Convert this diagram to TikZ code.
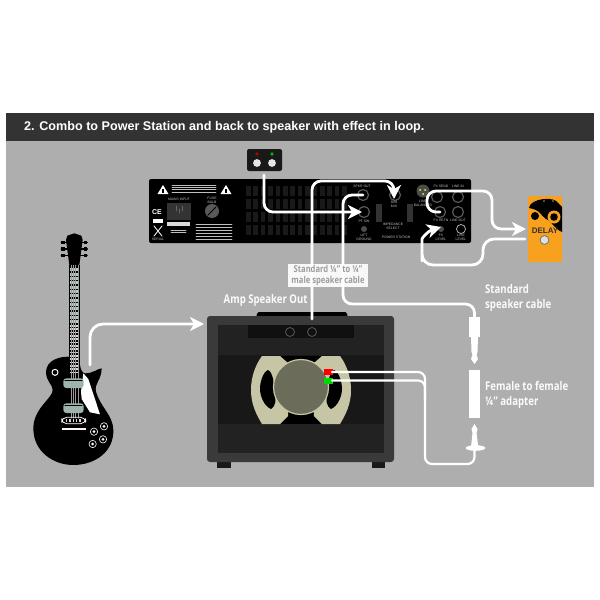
\documentclass[tikz,border=0pt]{standalone}
\usepackage{fontspec}
\setmainfont{Liberation Sans}
\newfontfamily\narrowfont[FakeStretch=0.8]{Open Sans}
\usetikzlibrary{arrows.meta,shapes.geometric}
\definecolor{backgr}{HTML}{AEAEAE}
\definecolor{titleband}{HTML}{333333}
\definecolor{ampshell}{HTML}{3A3A3A}
\definecolor{ampfront}{HTML}{222222}
\definecolor{ampband}{HTML}{181818}
\definecolor{amppanel}{HTML}{101010}
\definecolor{basket}{HTML}{C6C6A6}
\definecolor{cone}{HTML}{6C6C5A}
\definecolor{pedalorange}{HTML}{F8A11E}
\definecolor{pickup}{HTML}{9DB3AB}
\tikzset{
	cable/.style={draw=white,line width=2.8pt,line join=round,rounded corners=9pt},
	arrowcable/.style={cable,-{Stealth[length=14pt,width=14pt,inset=4pt]}},
	thinwire/.style={draw=white,line width=2.2pt,rounded corners=7pt},
	caption/.style={font=\narrowfont\bfseries\fontsize{12}{15.3}\selectfont,text=white!95!backgr,align=left,inner sep=0pt},
	paneltext/.style={font=\fontsize{3.4}{4}\selectfont,text=white!75!black,inner sep=0pt,align=center},
	jackring/.style={draw=black!65!white,line width=1.2pt,fill=black},
}
\begin{document}
\begin{tikzpicture}[x=1pt,y=-1pt,line join=round,line cap=round]
	\useasboundingbox (0,0) rectangle (600,600);
	\fill[white] (0,0) rectangle (600,600);
	%% background and title
	\fill[backgr] (6,141) rectangle (594,487);
	\fill[titleband] (6,113) rectangle (594,141);
	\node[anchor=west,inner sep=0pt,text=white,font=\bfseries\fontsize{12.6}{14}\selectfont] (title) at (24,127.5)
		{2. Combo to Power Station and back to speaker with effect in loop.};
	%% footswitch
	\fill[black!90!white,rounded corners=2pt] (247,149) rectangle (282,171);
	\coordinate (footout) at (264,175);
	\fill[red!70!black] (257,154) circle (1.8);
	\fill[green!70!black] (272,154) circle (1.8);
	\foreach \x in {257,272} \fill[white!90!black] (\x,163) circle (3.9);
	%% rear panel of the power station
	\fill[black,rounded corners=2pt] (149,179) rectangle (471,243);
	\foreach \i in {0,...,13} \foreach \j in {0,...,3}
		\fill[black!90!white] (246+7.4*\i,186+13*\j) rectangle +(4.6,10);
	\foreach \x in {163,226} \fill[white] (\x-5.5,194) -- (\x,185) -- (\x+5.5,194) -- cycle;
	\foreach \x in {163,226} \fill[black] (\x-.6,188.5) rectangle (\x+.6,192.5);
	\foreach \y in {185,187.3,189.6,192} \draw[white!75!black,line width=.8pt] (172,\y) -- (216,\y);
	\node[paneltext] (mains) at (179,199) {MAINS INPUT};
	\node[paneltext] (fuse) at (212,200.5) {FUSE\\BULB};
	\fill[black!80!white] (167,203) rectangle (191,220);
	\draw[black!60!white,line width=.6pt] (176,206) -- (176,211) (182,206) -- (182,211) (179,209) -- (179,213);
	\fill[black!65!white] (212,211) circle (7);
	\draw[black,line width=.8pt] (208,215) -- (216,207);
	\fill[white!85!black] (167,222) rectangle (190,226);
	\foreach \y in {230,232.5} \draw[white!75!black,line width=.7pt] (171,\y) -- (186,\y);
	\node[font=\bfseries\fontsize{7}{8}\selectfont,text=white,inner sep=0pt] (ce) at (157,212) {CE};
	\fill[white] (153,219) rectangle (163,223);
	\draw[white,line width=.8pt] (154,226) -- (162,236) (162,226) -- (154,236);
	\node[paneltext] (serial) at (158,239) {SERIAL};
	\foreach \y in {224,227,230,233,236,239} \draw[white!75!black,line width=.8pt] (196,\y) -- (232,\y);
	\foreach \x/\y/\nm in {363/195/spkrjack,364/212/ptjack,395/195/dimjack} \node[jackring,circle,minimum size=11pt,inner sep=0pt] (\nm) at (\x,\y) {};
	\foreach \x/\y/\nm in {437/197/fxsend,458/197/linein,440/212/fxret,458/212/lineout} \node[jackring,circle,minimum size=11pt,inner sep=0pt] (\nm) at (\x,\y) {};
	\node[paneltext] (spkrlab) at (362,186) {SPKR OUT};
	\node[paneltext] (ptlab) at (364,221) {PT SW};
	\node[paneltext] (dimlab) at (394,204) {DIM\\MIX};
	\node[paneltext] (sendlab) at (441,186) {FX SEND};
	\node[paneltext] (inlab) at (458,186) {LINE IN};
	\node[paneltext] (retlab) at (441,220) {FX RETN};
	\node[paneltext] (outlab) at (458,220) {LINE OUT};
	\node[paneltext] (fxlab) at (441,237) {FX\\LEVEL};
	\node[paneltext] (lineleveltx) at (461,237) {LINE\\LEVEL};
	\node[paneltext] (groundlab) at (364,237) {LIFT\\GROUND};
	\node[paneltext] (imped) at (393,226) {IMPEDANCE\\SELECT};
	\fill[black!80!white] (376,204) rectangle (382,222);
	\fill[black!80!white] (407,204) rectangle (413,222);
	\fill[black!70!white] (364,229) circle (3);
	\fill[black!70!white] (441,229) circle (3);
	\draw[white!75!black,fill=black,line width=.7pt] (461,229) circle (4.5);
	\fill[black!70!white] (423,191) circle (6.5);
	\foreach \x/\y in {420/190,425/190,423/194} \fill[yellow!80!white] (\x,\y) circle (1);
	\node[paneltext,anchor=west] (model) at (382,237) {POWER STATION};
	\node[paneltext] (xlrlab) at (423,203) {LINE\\BALANCED};
	%% pedal
	\fill[pedalorange,rounded corners=1pt] (528,196) rectangle (562,262);
	\fill[black] (529,208) .. controls (530,198) and (555,196) .. (558,203) -- (562,207) -- (562,232)
		.. controls (553,228) and (553,222) .. (546,219) .. controls (540,215) and (541,210) .. (529,208) -- cycle;
	\fill[black] (535,216) circle (4);
	\fill[pedalorange] (554,217) circle (6.5);
	\fill[black] (554,217) circle (3.8);
	\foreach \x in {534,544,553} \fill[white!60!black] (\x,201) circle (.8);
	\node[font=\fontsize{8}{8}\selectfont\bfseries,text=black!80!white,inner sep=0pt] (delaylab) at (545,231) {DELAY};
	\draw[black!55!white,fill=white!88!black,line width=.8pt] (544.5,240) circle (4.4);
	\coordinate (pedalin) at (526,229);
	\coordinate (pedalout) at (525,239);
	%% combo amp
	\fill[black,rounded corners=1pt] (256,316) -- (258,312) -- (346,312) -- (348,316) -- cycle;
	\fill[black!90!white] (217,462) rectangle (231,468);
	\fill[black!90!white] (372,462) rectangle (385,468);
	\fill[ampshell,rounded corners=3pt] (207,316) rectangle (394,462);
	\fill[ampfront] (218,325) rectangle (384,453);
	\fill[ampband] (218,355) rectangle (384,424);
	\fill[amppanel] (248,325) rectangle (354,338);
	\foreach \x/\nm in {290/inleft,312/inright} \node[circle,draw=white!35!black,line width=.8pt,minimum size=9pt,inner sep=0pt] (\nm) at (\x,332) {};
	\coordinate (ampjack) at (312,319);
	%% speaker
	\fill[black] (280,356) rectangle (322,424);
	\fill[basket] (262,356) -- (280,356) -- (288,363) -- (290,387) -- (288,416) -- (280,424) -- (262,424)
		.. controls (256,414) and (251,404) .. (251,390) .. controls (251,376) and (256,364) .. (262,356) -- cycle;
	\fill[basket] (340,356) -- (322,356) -- (314,363) -- (312,387) -- (314,416) -- (322,424) -- (340,424)
		.. controls (346,414) and (351,404) .. (351,390) .. controls (351,376) and (346,364) .. (340,356) -- cycle;
	\fill[black] (268,370) .. controls (273,372) and (274,384) .. (275,392) .. controls (276,400) and (276,406) .. (271,409)
		.. controls (264,406) and (260,396) .. (260,389) .. controls (260,382) and (263,372) .. (268,370) -- cycle;
	\fill[black] (334,370) .. controls (329,372) and (328,384) .. (327,392) .. controls (326,400) and (326,406) .. (331,409)
		.. controls (338,406) and (342,396) .. (342,389) .. controls (342,382) and (339,372) .. (334,370) -- cycle;
	\draw[basket,fill=cone,line width=1.2pt] (301,387) circle (27.5);
	%% guitar
	\begin{scope}[shift={(20,225)},scale=1/3]
		\fill[black] (148,120) -- (138,45) -- (142,32) -- (163,25) -- (184,32) -- (188,45) -- (178,120) -- cycle;
		\foreach \y in {52,72,92} {
			\draw[black,line width=1.4pt] (124,\y) -- (202,\y);
			\fill[black] (124,\y-5) rectangle (134,\y+5);
			\fill[black] (192,\y-5) rectangle (202,\y+5);
		}
		\fill[black] (145,395) .. controls (118,395) and (80,405) .. (78,440) .. controls (78,470) and (98,478) .. (98,495)
			.. controls (98,520) and (40,550) .. (40,610) .. controls (40,680) and (100,720) .. (160,720)
			.. controls (225,720) and (282,680) .. (280,615) .. controls (279,570) and (240,545) .. (228,500)
			.. controls (222,475) and (245,465) .. (245,430) .. controls (230,432) and (220,445) .. (195,445)
			.. controls (188,445) and (182,435) .. (180,420) -- cycle;
		\fill[black] (146,120) rectangle (180,445);
		\foreach \y in {130,143,...,290} \fill[pickup!70!white] (151,\y) rectangle (175,\y+9);
		\foreach \y in {300,310,...,440} \fill[white!85!black] (149,\y) rectangle (177,\y+5);
		\foreach \x in {152,159,166,173} \draw[white!60!black,line width=.3pt] (\x,120) -- (\x,580);
		\fill[white] (183,500) -- (190,445) -- (205,462) -- (240,568) -- (210,562) -- (185,522) -- cycle;
		\foreach \y/\nm in {460/neckpu,535/bridgepu} {
			\fill[pickup,rounded corners=3pt] (130,\y) rectangle (191,\y+29);
			\draw[black,line width=.4pt] (134,\y+6) -- (187,\y+6);
		}
		\draw[white!85!pink,line width=.8pt,rounded corners=5pt] (125,577) rectangle (197,596);
		\foreach \x in {140,150,...,185} \fill[white!85!black] (\x-2,583) rectangle (\x+2,590);
		\draw[white!80!pink,line width=1.1pt] (127,612) -- (197,612);
		\foreach \x/\y in {222/620,252/604,218/657,249/643} {
			\draw[white,line width=.6pt] (\x,\y) circle (11);
			\fill[white] (\x,\y) circle (4.5);
		}
		\draw[white,line width=1pt] (105,442) circle (9);
		\coordinate (guitarout) at (210,420);
	\end{scope}
	%% plugs and adapter
	\fill[white] (469,317) rectangle (480,337);
	\fill[white] (471,337) -- (478,337) -- (477.5,352) -- (476.5,355) -- (478,359) -- (474.5,364) -- (471,359) -- (472.5,355) -- (471.5,352) -- cycle;
	\coordinate (plugup) at (474.5,318);
	\fill[white] (469,370) rectangle (480,417.5);
	\fill[white] (474.5,424) -- (477.5,429) -- (476.5,433) -- (478,445) -- (480,447) -- (471,447) -- (472.5,433) -- (471.5,429) -- cycle;
	\fill[white] (475.5,448) ellipse (9.8 and 2.8);
	\coordinate (plugdown) at (474.5,450);
	%% amp terminals
	\fill[red] (324,369) rectangle (333,374.5);
	\fill[green!85!black] (324,378) rectangle (333,384);
	\coordinate (termred) at (332,372);
	\coordinate (termgreen) at (332,380.5);
	%% cables
	\coordinate (pttip) at (362,212);
	\coordinate (dimtip) at (394,199);
	\coordinate (fxtip) at (441,227);
	\coordinate (guitartip) at (204,324);
	\draw[arrowcable] (footout) |- (pttip);
	\draw[arrowcable] (ampjack) -- (312,181) -- (394,181) -- (dimtip);
	\draw[cable] (spkrjack.center) -- (343,195) -- (343,304) -- (474.5,304) -- (plugup);
	\draw[arrowcable,rounded corners=13pt] (guitarout) -- (90,324) -- (guitartip);
	\draw[arrowcable] (fxret.center) -- (427,212) -- (427,191) -- (492,191) -- (492,229) -- (pedalin);
	\draw[arrowcable,rounded corners=11pt] (pedalout) -- (483,239) -- (483,265) -- (422,265) -- (422,250) .. controls (422,238) and (428,231) .. (fxtip);
	\draw[thinwire] (termred) -- (425,372) -- (425,464) -- (474.5,464) -- (plugdown);
	\draw[thinwire] (termgreen) -- (425,380.5) -- (425,400);
	%% captions
	\node[fill=white,opacity=.92,text opacity=1,text=backgr!90!black,minimum width=80pt,minimum height=23pt,inner sep=0pt,
		align=center,font=\narrowfont\bfseries\fontsize{9.5}{11.5}\selectfont] (cablebox) at (328,275.5)
		{Standard ¼” to ¼”\\male speaker cable};
	\node[caption,anchor=west] (ampout) at (223.5,300) {Amp Speaker Out};
	\node[caption,anchor=north west] (spkcable) at (485,284) {Standard\\speaker cable};
	\node[caption,anchor=north west] (adapter) at (485,381) {Female to female\\¼” adapter};
\end{tikzpicture}
\end{document}
